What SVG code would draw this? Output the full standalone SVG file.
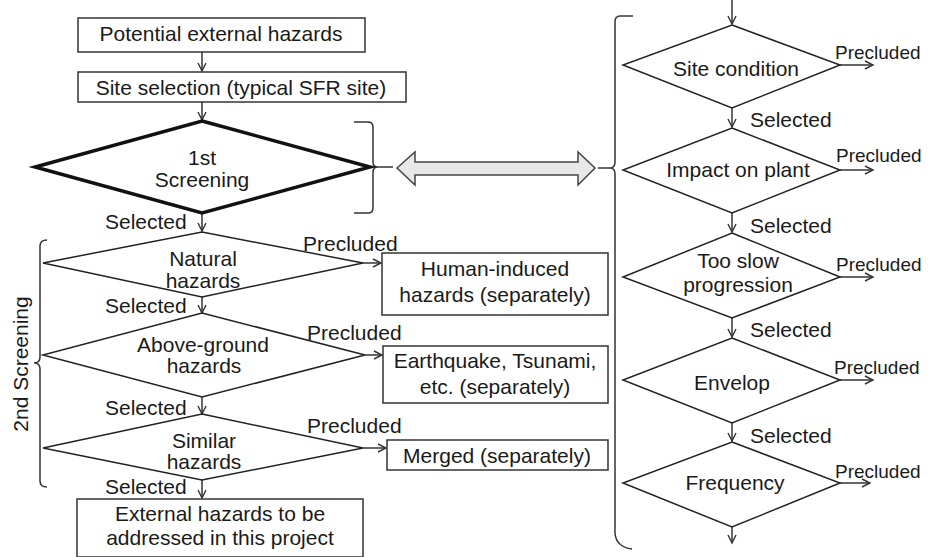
<svg xmlns="http://www.w3.org/2000/svg" width="935" height="557" viewBox="0 0 935 557">
<defs>
<style>
text{font-family:"Liberation Sans",Arial,sans-serif;font-size:21px;fill:#1a1a1a}
.c{text-anchor:middle}
.p{font-size:19px}
.box{fill:#fff;stroke:#333;stroke-width:1.5}
.dia{fill:#fff;stroke:#222;stroke-width:1.5}
.thick{fill:#fff;stroke:#111;stroke-width:3.5;stroke-linejoin:miter}
.ln{fill:none;stroke:#333;stroke-width:1.5}
.br{fill:none;stroke:#333;stroke-width:1.5}
</style>
<marker id="ah" markerUnits="userSpaceOnUse" markerWidth="12" markerHeight="12" refX="9" refY="5" orient="auto">
<path d="M1,1 L9,5 L1,9" fill="none" stroke="#333" stroke-width="1.4"/>
</marker>
</defs>
<rect width="935" height="557" fill="#fff"/>

<g id="connectors">
<line class="ln" x1="202" y1="52" x2="202" y2="71" marker-end="url(#ah)"/>
<line class="ln" x1="202" y1="102" x2="202" y2="120" marker-end="url(#ah)"/>
<line class="ln" x1="202" y1="214" x2="202" y2="231" marker-end="url(#ah)"/>
<line class="ln" x1="202" y1="297" x2="202" y2="313" marker-end="url(#ah)"/>
<line class="ln" x1="202" y1="397" x2="202" y2="414" marker-end="url(#ah)"/>
<line class="ln" x1="202" y1="480" x2="202" y2="498" marker-end="url(#ah)"/>
<line class="ln" x1="363" y1="263" x2="381" y2="263" marker-end="url(#ah)"/>
<line class="ln" x1="365" y1="355" x2="382" y2="355" marker-end="url(#ah)"/>
<line class="ln" x1="363" y1="448" x2="386" y2="448" marker-end="url(#ah)"/>
<line class="ln" x1="732" y1="0" x2="732" y2="24" marker-end="url(#ah)"/>
<line class="ln" x1="732" y1="108" x2="732" y2="127" marker-end="url(#ah)"/>
<line class="ln" x1="732" y1="213" x2="732" y2="232" marker-end="url(#ah)"/>
<line class="ln" x1="732" y1="318" x2="732" y2="337" marker-end="url(#ah)"/>
<line class="ln" x1="732" y1="423" x2="732" y2="441" marker-end="url(#ah)"/>
<line class="ln" x1="732" y1="527" x2="732" y2="543" marker-end="url(#ah)"/>
<line class="ln" x1="840" y1="65" x2="873" y2="65" marker-end="url(#ah)"/>
<line class="ln" x1="840" y1="170" x2="873" y2="170" marker-end="url(#ah)"/>
<line class="ln" x1="840" y1="277" x2="873" y2="277" marker-end="url(#ah)"/>
<line class="ln" x1="840" y1="380" x2="873" y2="380" marker-end="url(#ah)"/>
<line class="ln" x1="840" y1="483" x2="870" y2="483" marker-end="url(#ah)"/>
<polygon points="397,168 415,152 415,162 578,162 578,152 595,168 578,185 578,175 415,175 415,185" fill="#e8e8e8" stroke="#444" stroke-width="1.5"/>
<text x="105" y="229">Selected</text>
<text x="105" y="313">Selected</text>
<text x="105" y="415">Selected</text>
<text x="105" y="494">Selected</text>
<text x="303" y="251">Precluded</text>
<text x="307" y="340">Precluded</text>
<text x="307" y="433">Precluded</text>
<text x="750" y="127">Selected</text>
<text x="750" y="233">Selected</text>
<text x="750" y="337">Selected</text>
<text x="750" y="443">Selected</text>
<text class="p" x="835" y="59">Precluded</text>
<text class="p" x="836" y="162">Precluded</text>
<text class="p" x="836" y="271">Precluded</text>
<text class="p" x="834" y="374">Precluded</text>
<text class="p" x="835" y="478">Precluded</text>
</g>

<g id="braces">
<path class="br" d="M354,122 L368,122 Q373,122 373,127 L373,162 Q373,167 378,167 Q373,167 373,172 L373,208 Q373,213 368,213 L354,213"/>
<line class="br" x1="378" y1="167" x2="393" y2="167"/>
<path class="br" d="M633,16 L620,16 Q615,16 615,22 L615,162 Q615,168 610,168 Q615,168 615,174 L615,533 Q616,547 632,549"/>
<line class="br" x1="598" y1="168" x2="610" y2="168"/>
<path class="br" d="M47,240 Q40,240 40,246 L40,357 Q40,363 34,363 Q40,363 40,369 L40,481 Q40,487 47,487"/>
<text class="c" transform="translate(28,364) rotate(-90)">2nd Screening</text>
</g>

<g id="n-potential">
<rect class="box" x="78" y="18" width="287" height="34"/>
<text class="c" x="221" y="41">Potential external hazards</text>
</g>
<g id="n-site">
<rect class="box" x="78" y="72" width="328" height="30"/>
<text class="c" x="241" y="95">Site selection (typical SFR site)</text>
</g>
<g id="n-first">
<polygon class="thick" points="202,121 370,167 202,213 35,167"/>
<text class="c" x="202" y="165">1st</text>
<text class="c" x="202" y="187">Screening</text>
</g>
<g id="n-natural">
<polygon class="dia" points="202,232 363,263 202,297 43,263"/>
<text class="c" x="203" y="266">Natural</text>
<text class="c" x="203" y="288">hazards</text>
</g>
<g id="n-above">
<polygon class="dia" points="202,313 365,355 202,397 43,355"/>
<text class="c" x="203" y="352">Above-ground</text>
<text class="c" x="204" y="373">hazards</text>
</g>
<g id="n-similar">
<polygon class="dia" points="202,414 363,448 202,480 43,448"/>
<text class="c" x="204" y="448">Similar</text>
<text class="c" x="204" y="469">hazards</text>
</g>
<g id="n-final">
<rect class="box" x="77" y="499" width="286" height="58"/>
<text class="c" x="220" y="521">External hazards to be</text>
<text class="c" x="220" y="545">addressed in this project</text>
</g>
<g id="n-human">
<rect class="box" x="382" y="253" width="226" height="62"/>
<text class="c" x="495" y="276">Human-induced</text>
<text class="c" x="495" y="302">hazards (separately)</text>
</g>
<g id="n-earthquake">
<rect class="box" x="383" y="346" width="225" height="57"/>
<text class="c" x="495" y="368">Earthquake, Tsunami,</text>
<text class="c" x="495" y="394">etc. (separately)</text>
</g>
<g id="n-merged">
<rect class="box" x="387" y="440" width="221" height="30"/>
<text class="c" x="497" y="463">Merged (separately)</text>
</g>
<g id="n-sitecond">
<polygon class="dia" points="732,25 840,65 732,108 623,65"/>
<text class="c" x="736" y="76">Site condition</text>
</g>
<g id="n-impact">
<polygon class="dia" points="732,128 840,170 732,213 623,170"/>
<text class="c" x="738" y="177">Impact on plant</text>
</g>
<g id="n-slow">
<polygon class="dia" points="732,233 840,277 732,318 623,277"/>
<text class="c" x="738" y="268">Too slow</text>
<text class="c" x="738" y="292">progression</text>
</g>
<g id="n-envelop">
<polygon class="dia" points="732,338 840,380 732,423 623,380"/>
<text class="c" x="732" y="390">Envelop</text>
<text class="c" x="735" y="0" visibility="hidden"></text>
</g>
<g id="n-frequency">
<polygon class="dia" points="732,442 840,483 732,527 623,483"/>
<text class="c" x="735" y="490">Frequency</text>
</g>
</svg>
